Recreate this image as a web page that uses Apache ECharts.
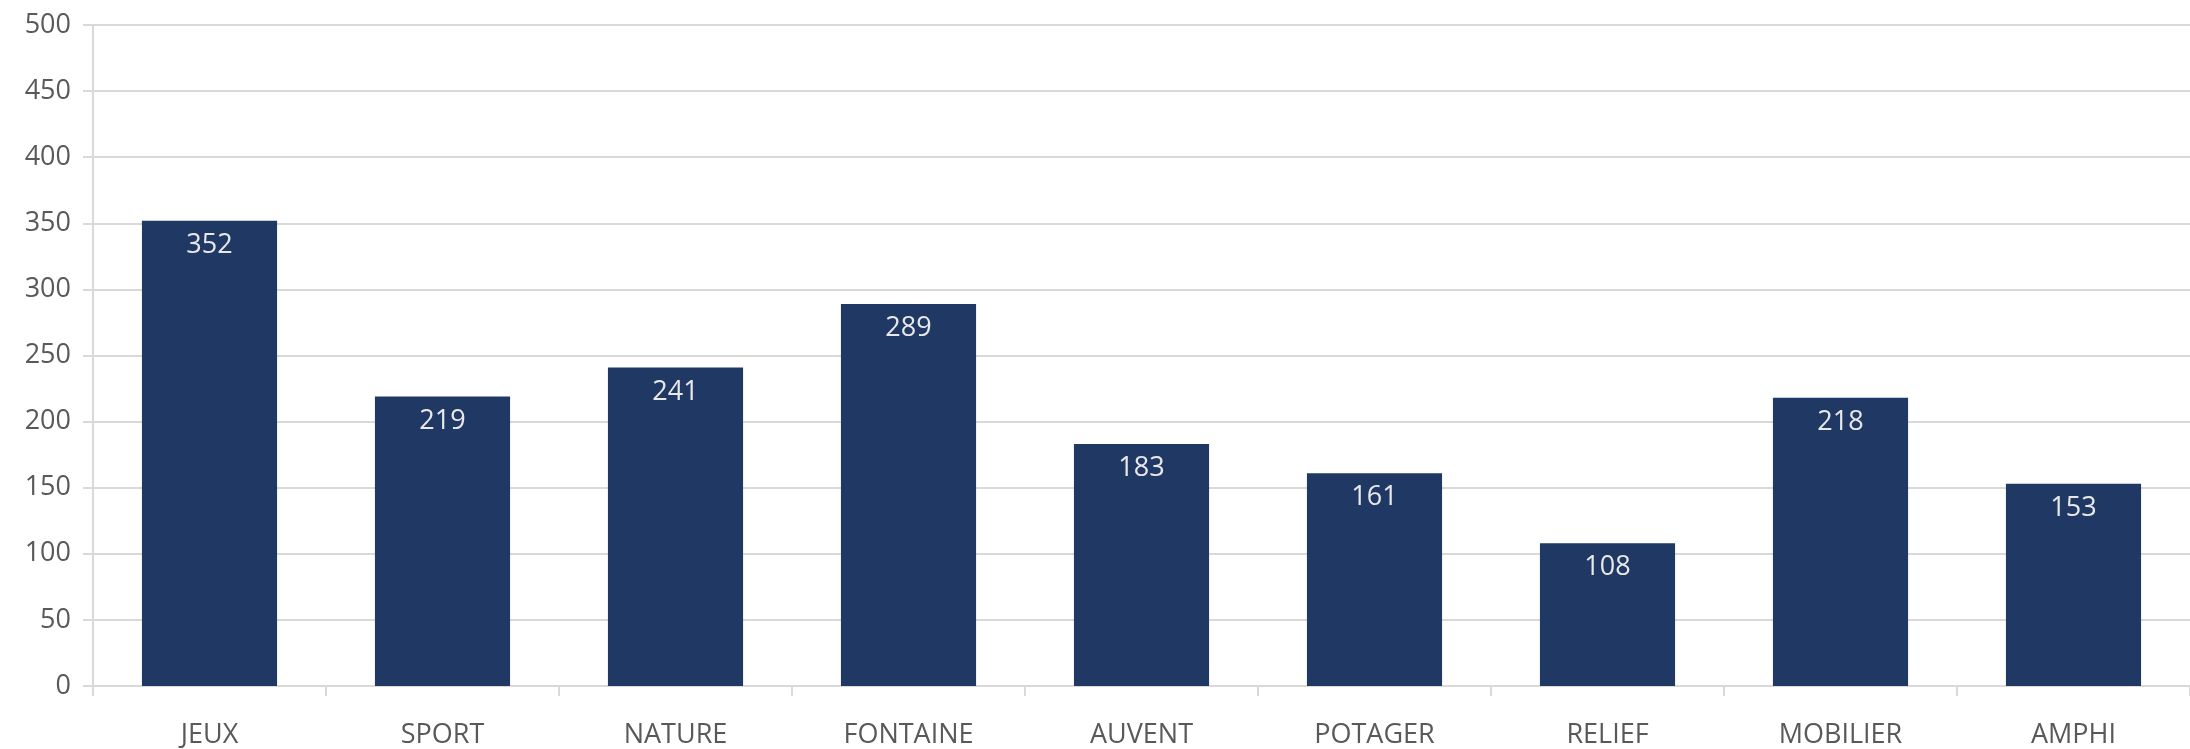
<!DOCTYPE html>
<html>
<head>
<meta charset="utf-8">
<style>
    html, body { margin: 0; padding: 0; background: #fff; }
    #main { width: 2190px; height: 749px; }
</style>
<script src="https://cdn.jsdelivr.net/npm/echarts@6/dist/echarts.min.js"></script>
</head>
<body>
<div id="main"></div>
<script>
const categories = ['JEUX', 'SPORT', 'NATURE', 'FONTAINE', 'AUVENT', 'POTAGER', 'RELIEF', 'MOBILIER', 'AMPHI'];
const values = [352, 219, 241, 289, 183, 161, 108, 218, 153];

const fontName = '"Open Sans", "Noto Sans", sans-serif';

let chart = echarts.init(document.getElementById('main'));

let option = {
    animation: false,
    grid: {
        left: 93,
        right: 0,
        top: 25,
        bottom: 63
    },
    xAxis: {
        type: 'category',
        data: categories,
        axisLine: {
            lineStyle: {color: '#d9d9d9', width: 2}
        },
        axisTick: {
            show: true,
            length: 10,
            lineStyle: {color: '#d9d9d9', width: 2}
        },
        axisLabel: {
            color: '#595959',
            fontSize: 27,
            fontFamily: fontName,
            margin: 36
        }
    },
    yAxis: {
        type: 'value',
        min: 0,
        max: 500,
        interval: 50,
        axisLine: {
            show: true,
            lineStyle: {color: '#d9d9d9', width: 2}
        },
        axisTick: {
            show: true,
            length: 10,
            lineStyle: {color: '#d9d9d9', width: 2}
        },
        splitLine: {
            lineStyle: {color: '#d9d9d9', width: 2}
        },
        axisLabel: {
            color: '#595959',
            fontSize: 27,
            fontFamily: fontName,
            margin: 22
        }
    },
    series: [
        {
            type: 'bar',
            data: values,
            barCategoryGap: '42%',
            itemStyle: {
                color: '#203864'
            },
            label: {
                show: true,
                position: 'insideTop',
                distance: 11,
                color: '#e8e8e8',
                fontSize: 27,
                fontFamily: fontName
            }
        }
    ]
};

chart.setOption(option);
</script>
</body>
</html>
